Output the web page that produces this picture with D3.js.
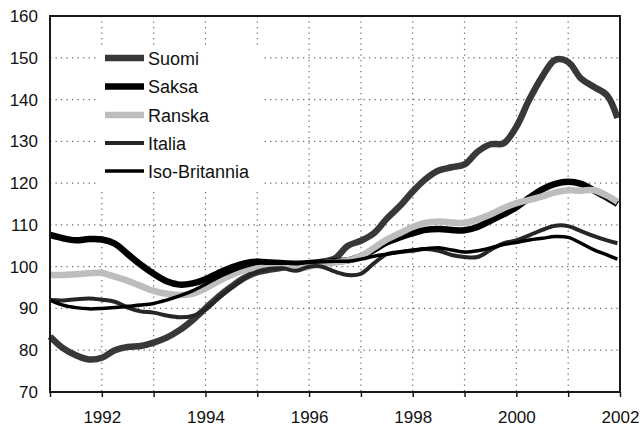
<!DOCTYPE html>
<html>
<head>
<meta charset="utf-8">
<script src="https://cdn.jsdelivr.net/npm/d3@7"></script>
<style>
  html, body { margin: 0; padding: 0; background: #fff; }
  svg { display: block; font-family: "Liberation Sans", Arial, sans-serif; }
</style>
</head>
<body>
<svg id="chart" width="643" height="427"></svg>
<script>
// ---- data ----
const dates = [
  1991.0, 1991.25, 1991.5, 1991.75,
  1992.0, 1992.25, 1992.5, 1992.75,
  1993.0, 1993.25, 1993.5, 1993.75,
  1994.0, 1994.25, 1994.5, 1994.75,
  1995.0, 1995.25, 1995.5, 1995.75,
  1996.0, 1996.25, 1996.5, 1996.75,
  1997.0, 1997.25, 1997.5, 1997.75,
  1998.0, 1998.25, 1998.5, 1998.75,
  1999.0, 1999.25, 1999.5, 1999.75,
  2000.0, 2000.25, 2000.5, 2000.75,
  2001.0, 2001.25, 2001.5, 2001.75,
  2001.95
];
const suomi = [
  83.3, 80.5, 78.8, 77.8,
  78.2, 80.0, 80.8, 81.0,
  81.8, 83.0, 84.8, 87.2,
  90.0, 92.8, 95.2, 97.3,
  98.7, 99.3, 99.8, 100.3,
  100.8, 101.2, 102.0, 105.0,
  106.2, 108.0, 111.5, 114.5,
  118.0, 121.0, 123.0, 123.8,
  124.5, 127.5, 129.3, 129.5,
  133.5, 140.0, 145.5, 149.5,
  149.0, 145.0, 143.0, 141.0,
  135.6
];
const saksa = [
  107.6, 106.8, 106.3, 106.6,
  106.5, 105.5, 103.0, 100.5,
  98.3, 96.5, 95.7, 96.0,
  97.0, 98.5, 99.8, 100.8,
  101.2, 101.0, 100.8, 100.7,
  100.8, 101.0, 101.3, 101.5,
  102.5, 104.0, 105.8, 107.0,
  108.0, 108.8, 109.0, 108.8,
  108.7, 109.5, 111.0, 112.5,
  114.2, 116.5, 118.5, 119.8,
  120.3, 119.8, 118.2, 116.5,
  115.0
];
const ranska = [
  98.0, 98.0, 98.2, 98.4,
  98.5, 97.6, 96.6, 95.4,
  94.2, 93.5, 93.2, 93.5,
  94.8, 96.5, 98.0, 99.2,
  99.8, 100.2, 100.0, 99.5,
  100.0, 100.8, 101.0, 101.5,
  102.5, 104.5, 106.5, 108.0,
  109.5, 110.5, 110.8, 110.6,
  110.5, 111.3, 112.5, 114.0,
  115.2, 116.0, 116.8, 117.8,
  118.3, 118.2, 118.3, 117.0,
  115.5
];
const italia = [
  92.0, 91.9, 92.2, 92.4,
  92.1, 91.6, 90.2, 89.3,
  89.0, 88.3, 87.9, 88.2,
  89.8, 92.5, 95.0, 97.2,
  98.8, 99.5, 99.6, 99.0,
  100.0, 100.0, 98.8, 98.0,
  98.3, 100.8, 103.0, 103.5,
  103.8, 104.2, 103.8, 102.8,
  102.3, 102.3, 104.0, 105.6,
  106.3, 107.5, 108.8, 109.8,
  109.7, 108.5, 107.3, 106.3,
  105.6
];
const isoBritannia = [
  92.0, 90.8, 90.2, 89.9,
  90.0, 90.2, 90.5, 90.8,
  91.2, 92.0, 93.0, 94.2,
  95.8, 97.5, 98.9, 100.0,
  100.8, 100.8, 100.8, 100.8,
  101.0, 101.2, 101.3, 101.3,
  101.8, 102.5, 103.0, 103.5,
  104.0, 104.3, 104.5, 104.0,
  103.5, 103.8, 104.5, 105.3,
  105.8, 106.4, 106.8, 107.2,
  107.0, 105.6, 104.0, 102.8,
  101.8
];
const seriesNames = ["Suomi", "Saksa", "Ranska", "Italia", "Iso-Britannia"];
const seriesValues = [suomi, saksa, ranska, italia, isoBritannia];
const yTicks = [70, 80, 90, 100, 110, 120, 130, 140, 150, 160];
const xGridYears = [1991, 1992, 1993, 1994, 1995, 1996, 1997, 1998, 1999, 2000, 2001, 2002];
const xTickLabels = [1992, 1994, 1996, 1998, 2000, 2002];

// ---- styles ----
const styles = [
  { color: "#383838", width: 6.5 },
  { color: "#000000", width: 6.5 },
  { color: "#bdbdbd", width: 6.5 },
  { color: "#262626", width: 4 },
  { color: "#000000", width: 3.5 }
];

// ---- layout ----
const svg = d3.select("#chart");
const L = 50, R = 620, T = 16, B = 392;
const x = d3.scaleLinear().domain([1991, 2002]).range([L, R]);
const y = d3.scaleLinear().domain([70, 160]).range([B, T]);

// gridlines
const grid = svg.append("g");
grid.selectAll("line.h").data(yTicks.filter(v => v > 70 && v < 160)).join("line")
  .attr("x1", L).attr("x2", R)
  .attr("y1", d => y(d)).attr("y2", d => y(d))
  .attr("stroke", "#6a6a6a").attr("stroke-width", 1.2)
  .attr("stroke-dasharray", "1.3,4.2");
grid.selectAll("line.v").data(xGridYears.filter(v => v > 1991 && v < 2002)).join("line")
  .attr("x1", d => x(d)).attr("x2", d => x(d))
  .attr("y1", T).attr("y2", B)
  .attr("stroke", "#6a6a6a").attr("stroke-width", 1.2)
  .attr("stroke-dasharray", "1.3,4.2");

// legend background (hides gridlines)
svg.append("rect").attr("x", 98).attr("y", 45).attr("width", 163).attr("height", 145)
  .attr("fill", "#fff");

// series lines
const line = d3.line()
  .x((d, i) => x(dates[i]))
  .y(d => y(d))
  .curve(d3.curveCatmullRom.alpha(0.5));
svg.append("g").selectAll("path").data(seriesValues).join("path")
  .attr("d", d => line(d))
  .attr("fill", "none")
  .attr("stroke", (d, i) => styles[i].color)
  .attr("stroke-width", (d, i) => styles[i].width)
  .attr("stroke-linejoin", "round")
  .attr("stroke-linecap", "butt");

// frame
svg.append("rect").attr("x", L).attr("y", T).attr("width", R - L).attr("height", B - T)
  .attr("fill", "none").attr("stroke", "#1a1a1a").attr("stroke-width", 2);

// axes
const yAxis = d3.axisLeft(y).tickValues(yTicks).tickSize(0).tickPadding(12);
const gy = svg.append("g").attr("transform", `translate(${L},0)`).call(yAxis);
gy.select(".domain").remove();
gy.selectAll("text").attr("font-size", 17).attr("fill", "#111")
  .attr("font-family", "'Liberation Sans', Arial, sans-serif");

const xAxisTicks = d3.axisBottom(x).tickValues(xGridYears).tickSize(5).tickFormat("");
const gxt = svg.append("g").attr("transform", `translate(0,${B})`).call(xAxisTicks);
gxt.select(".domain").remove();
gxt.selectAll("line").attr("stroke", "#1a1a1a").attr("stroke-width", 1.5);

const xAxis = d3.axisBottom(x).tickValues(xTickLabels).tickSize(0).tickPadding(19).tickFormat(d3.format("d"));
const gx = svg.append("g").attr("transform", `translate(0,${B})`).call(xAxis);
gx.select(".domain").remove();
gx.selectAll("text").attr("font-size", 17).attr("fill", "#111")
  .attr("font-family", "'Liberation Sans', Arial, sans-serif");

// legend
const legendRows = [58, 86.5, 115, 143, 171];
const lg = svg.append("g");
seriesNames.forEach((name, i) => {
  lg.append("line").attr("x1", 105).attr("x2", 144)
    .attr("y1", legendRows[i]).attr("y2", legendRows[i])
    .attr("stroke", styles[i].color).attr("stroke-width", styles[i].width);
  lg.append("text").attr("x", 148).attr("y", legendRows[i] + 6.5)
    .attr("font-size", 18).attr("fill", "#111").text(name);
});
</script>
</body>
</html>
